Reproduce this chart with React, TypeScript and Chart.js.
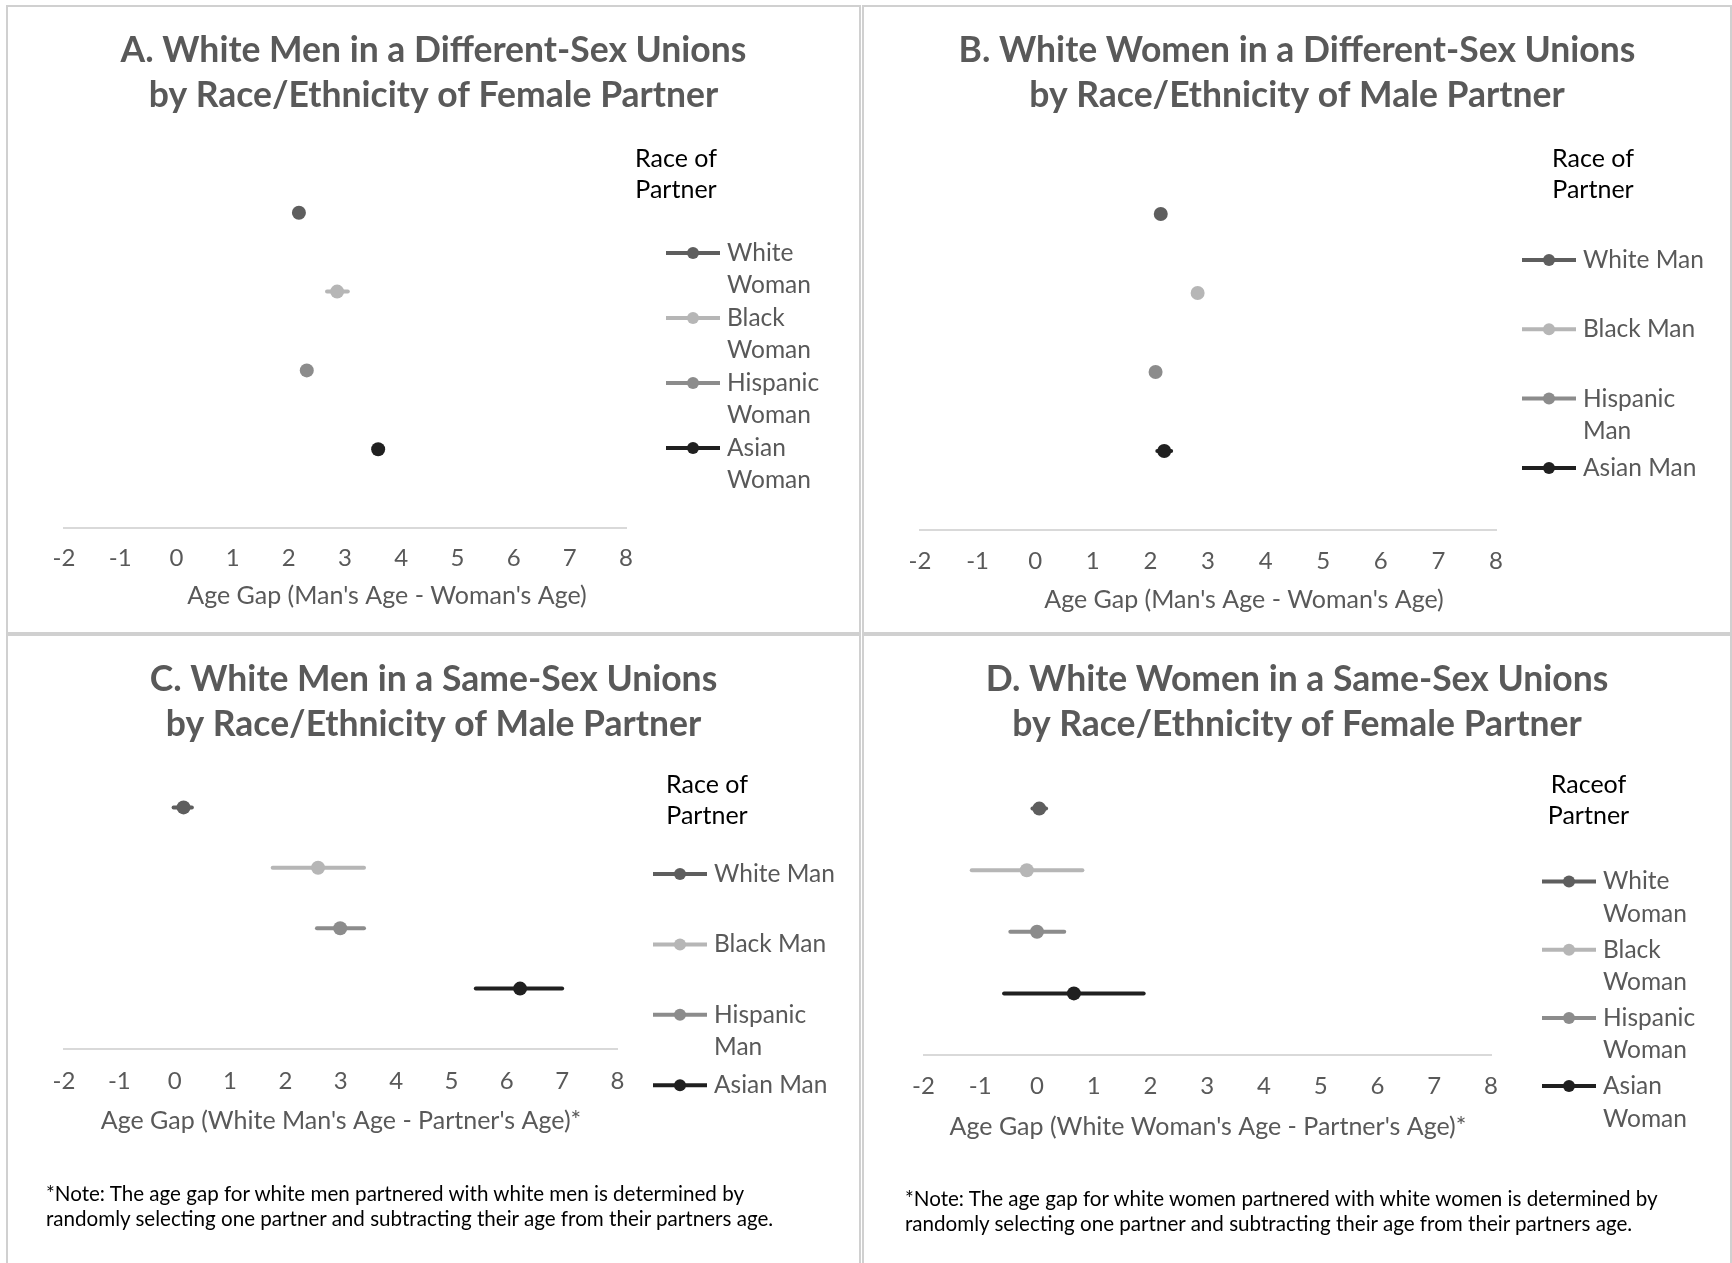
import React, { useEffect, useRef } from 'react';
import { Chart, registerables } from 'chart.js';

Chart.register(...registerables);

// ---------- data ----------
const X_MIN = -2;
const X_MAX = 8;
const xTickValues = [-2, -1, 0, 1, 2, 3, 4, 5, 6, 7, 8];
const rowPositions = [4, 3, 2, 1];
const seriesColors = ['#5e5e5e', '#b6b6b6', '#8c8c8c', '#202020'];

// Panel A
const titleA = ['A. White Men in a Different-Sex Unions', 'by Race/Ethnicity of Female Partner'];
const axisTitleA = "Age Gap (Man's Age - Woman's Age)";
const legendTitleA = ['Race of', 'Partner'];
const partnersA = ['White Woman', 'Black Woman', 'Hispanic Woman', 'Asian Woman'];
const legendLinesA = [['White', 'Woman'], ['Black', 'Woman'], ['Hispanic', 'Woman'], ['Asian', 'Woman']];
const meanA = [2.18, 2.86, 2.32, 3.59];
const lowA = [2.12, 2.68, 2.27, 3.53];
const highA = [2.24, 3.05, 2.37, 3.65];

// Panel B
const titleB = ['B. White Women in a Different-Sex Unions', 'by Race/Ethnicity of Male Partner'];
const axisTitleB = "Age Gap (Man's Age - Woman's Age)";
const legendTitleB = ['Race of', 'Partner'];
const partnersB = ['White Man', 'Black Man', 'Hispanic Man', 'Asian Man'];
const legendLinesB = [['White Man'], ['Black Man'], ['Hispanic', 'Man'], ['Asian Man']];
const meanB = [2.18, 2.82, 2.09, 2.24];
const lowB = [2.14, 2.76, 2.05, 2.12];
const highB = [2.22, 2.86, 2.13, 2.36];

// Panel C
const titleC = ['C. White Men in a Same-Sex Unions', 'by Race/Ethnicity of Male Partner'];
const axisTitleC = "Age Gap (White Man's Age - Partner's Age)*";
const legendTitleC = ['Race of', 'Partner'];
const partnersC = ['White Man', 'Black Man', 'Hispanic Man', 'Asian Man'];
const legendLinesC = [['White Man'], ['Black Man'], ['Hispanic', 'Man'], ['Asian Man']];
const meanC = [0.16, 2.59, 2.99, 6.24];
const lowC = [-0.02, 1.77, 2.57, 5.44];
const highC = [0.31, 3.42, 3.42, 7.0];
const noteC = [
  '*Note: The age gap for white men partnered with white men is determined by',
  'randomly selecting one partner and subtracting their age from their partners age.',
];

// Panel D
const titleD = ['D. White Women in a Same-Sex Unions', 'by Race/Ethnicity of Female Partner'];
const axisTitleD = "Age Gap (White Woman's Age - Partner's Age)*";
const legendTitleD = ['Raceof', 'Partner'];
const partnersD = ['White Woman', 'Black Woman', 'Hispanic Woman', 'Asian Woman'];
const legendLinesD = [['White', 'Woman'], ['Black', 'Woman'], ['Hispanic', 'Woman'], ['Asian', 'Woman']];
const meanD = [0.04, -0.18, 0.0, 0.65];
const lowD = [-0.08, -1.15, -0.47, -0.58];
const highD = [0.16, 0.8, 0.48, 1.88];
const noteD = [
  '*Note: The age gap for white women partnered with white women is determined by',
  'randomly selecting one partner and subtracting their age from their partners age.',
];

// ---------- styles ----------
const FONT = 'Lato, Carlito, Calibri, "Liberation Sans", sans-serif';
const TEXT_GRAY = '#595959';
const TITLE_SIZE = 35.5;
const TITLE_LH = 45;
const TITLE_Y1 = 44;
const TICK_SIZE = 24;
const AXIS_SIZE = 25;
const LEGEND_SIZE = 24.5;
const LEGEND_TITLE_SIZE = 25;
const LEGEND_LH = 32.5;
const LEGEND_TITLE_LH = 31;
const NOTE_SIZE = 20.6;

type Geom = {
  plotLeft: number; plotRight: number; plotTop: number; plotBottom: number;
  tickY: number; axisTitleX: number; axisTitleY: number;
  legendTitleX: number; legendTitleY: number;
  legendLineX: number; legendTextX: number; legendY0: number; legendStep: number;
};

type PanelSpec = {
  box: { left: number; top: number; width: number; height: number };
  title: string[]; axisTitle: string; legendTitle: string[];
  partners: string[]; legendLines: string[][];
  means: number[]; lows: number[]; highs: number[];
  geom: Geom;
};

const panels: PanelSpec[] = [
  {
    box: { left: 6, top: 5, width: 855, height: 629 },
    title: titleA, axisTitle: axisTitleA, legendTitle: legendTitleA,
    partners: partnersA, legendLines: legendLinesA, means: meanA, lows: lowA, highs: highA,
    geom: { plotLeft: 56, plotRight: 618, plotTop: 127, plotBottom: 521, tickY: 551, axisTitleX: 379, axisTitleY: 589,
      legendTitleX: 668, legendTitleY: 152, legendLineX: 658, legendTextX: 719, legendY0: 246, legendStep: 65 },
  },
  {
    box: { left: 862, top: 5, width: 870, height: 629 },
    title: titleB, axisTitle: axisTitleB, legendTitle: legendTitleB,
    partners: partnersB, legendLines: legendLinesB, means: meanB, lows: lowB, highs: highB,
    geom: { plotLeft: 56, plotRight: 632, plotTop: 128, plotBottom: 523, tickY: 554, axisTitleX: 380, axisTitleY: 593,
      legendTitleX: 729, legendTitleY: 152, legendLineX: 658, legendTextX: 719, legendY0: 253, legendStep: 69.3 },
  },
  {
    box: { left: 6, top: 634, width: 855, height: 632 },
    title: titleC, axisTitle: axisTitleC, legendTitle: legendTitleC,
    partners: partnersC, legendLines: legendLinesC, means: meanC, lows: lowC, highs: highC,
    geom: { plotLeft: 56, plotRight: 609.5, plotTop: 111, plotBottom: 413, tickY: 445, axisTitleX: 333, axisTitleY: 485,
      legendTitleX: 699, legendTitleY: 149, legendLineX: 645, legendTextX: 706, legendY0: 238, legendStep: 70.4 },
  },
  {
    box: { left: 862, top: 634, width: 870, height: 632 },
    title: titleD, axisTitle: axisTitleD, legendTitle: legendTitleD,
    partners: partnersD, legendLines: legendLinesD, means: meanD, lows: lowD, highs: highD,
    geom: { plotLeft: 59.5, plotRight: 627, plotTop: 111, plotBottom: 419, tickY: 450, axisTitleX: 344, axisTitleY: 491,
      legendTitleX: 724.5, legendTitleY: 149, legendLineX: 678, legendTextX: 739, legendY0: 245.5, legendStep: 68.2 },
  },
];

const notes = [
  { lines: noteC, left: 46, top: 1181 },
  { lines: noteD, left: 905, top: 1186 },
];

function Panel({ spec }: { spec: PanelSpec }) {
  const ref = useRef<HTMLCanvasElement | null>(null);
  const cw = spec.box.width - 4;
  const ch = spec.box.height - 4;

  useEffect(() => {
    const canvas = ref.current;
    if (!canvas) return;
    const g = spec.geom;
    const tickLH = TICK_SIZE * 1.2;
    const tickPad = g.tickY - g.plotBottom - tickLH / 2;
    const xScaleHeight = tickLH + 2 * tickPad;
    const titlePadTop = TITLE_Y1 - TITLE_LH / 2;
    const titlePadBottom = g.plotTop - titlePadTop - 2 * TITLE_LH;

    const datasets = spec.partners.map((label, i) => ({
      label,
      data: [
        { x: spec.lows[i], y: rowPositions[i] },
        { x: spec.means[i], y: rowPositions[i] },
        { x: spec.highs[i], y: rowPositions[i] },
      ],
      showLine: true,
      borderColor: seriesColors[i],
      backgroundColor: seriesColors[i],
      pointBackgroundColor: seriesColors[i],
      borderWidth: 4,
      borderCapStyle: 'round' as const,
      pointRadius: [0, 7, 0],
      pointHoverRadius: [0, 7, 0],
      pointBorderWidth: 0,
      clip: false as const,
    }));

    const extras = {
      id: 'panelExtras',
      afterDraw(chart: any) {
        const ctx: CanvasRenderingContext2D = chart.ctx;
        ctx.save();
        ctx.textBaseline = 'middle';
        // axis title
        ctx.font = `${AXIS_SIZE}px ${FONT}`;
        ctx.fillStyle = TEXT_GRAY;
        ctx.textAlign = 'center';
        ctx.fillText(spec.axisTitle, g.axisTitleX, g.axisTitleY);
        // legend title
        ctx.font = `${LEGEND_TITLE_SIZE}px ${FONT}`;
        ctx.fillStyle = '#000000';
        spec.legendTitle.forEach((t, k) => ctx.fillText(t, g.legendTitleX, g.legendTitleY + k * LEGEND_TITLE_LH));
        // legend items
        ctx.font = `${LEGEND_SIZE}px ${FONT}`;
        chart.data.datasets.forEach((ds: any, i: number) => {
          const y = g.legendY0 + i * g.legendStep;
          ctx.strokeStyle = ds.borderColor;
          ctx.lineWidth = 4;
          ctx.lineCap = 'butt';
          ctx.beginPath();
          ctx.moveTo(g.legendLineX, y);
          ctx.lineTo(g.legendLineX + 54, y);
          ctx.stroke();
          ctx.fillStyle = ds.borderColor;
          ctx.beginPath();
          ctx.arc(g.legendLineX + 27, y, 6, 0, Math.PI * 2);
          ctx.fill();
          ctx.fillStyle = TEXT_GRAY;
          ctx.textAlign = 'left';
          spec.legendLines[i].forEach((t, k) => ctx.fillText(t, g.legendTextX, y + k * LEGEND_LH));
        });
        ctx.restore();
      },
    };

    const hiddenSide = (width: number, position: 'left' | 'right') => ({
      type: 'linear',
      position,
      display: true,
      min: 0,
      max: 5,
      ticks: { display: false },
      grid: { display: false, drawTicks: false },
      border: { display: false },
      title: { display: false },
      afterFit: (scale: any) => {
        scale.width = width;
      },
    });

    const chart = new Chart(canvas, {
      type: 'scatter',
      data: { datasets },
      options: {
        responsive: false,
        animation: false,
        events: [],
        layout: {
          padding: {
            left: 0,
            right: 0,
            top: 0,
            bottom: ch - g.plotBottom - xScaleHeight,
          },
        },
        plugins: {
          legend: { display: false },
          tooltip: { enabled: false },
          title: {
            display: true,
            text: spec.title,
            color: TEXT_GRAY,
            font: { family: FONT, size: TITLE_SIZE, weight: 'bold', lineHeight: `${TITLE_LH}px` },
            padding: { top: titlePadTop, bottom: titlePadBottom },
          },
        },
        scales: {
          x: {
            type: 'linear',
            position: 'bottom',
            min: X_MIN,
            max: X_MAX,
            afterBuildTicks: (scale: any) => {
              scale.ticks = xTickValues.map((v) => ({ value: v }));
            },
            grid: { display: false, drawTicks: false },
            border: { display: true, color: '#d9d9d9', width: 2 },
            ticks: {
              color: TEXT_GRAY,
              font: { family: FONT, size: TICK_SIZE, lineHeight: 1.2 },
              padding: tickPad,
              autoSkip: false,
              maxRotation: 0,
            },
            title: { display: false },
          },
          y: hiddenSide(g.plotLeft, 'left'),
          yRight: { axis: 'y', ...hiddenSide(cw - g.plotRight, 'right') },
        },
      } as any,
      plugins: [extras],
    });
    return () => chart.destroy();
  }, [spec]);

  return (
    <div
      style={{
        position: 'absolute',
        left: spec.box.left,
        top: spec.box.top,
        width: spec.box.width,
        height: spec.box.height,
        border: '2px solid #d0d0d0',
        boxSizing: 'border-box',
        background: '#ffffff',
      }}
    >
      <canvas ref={ref} width={cw} height={ch} style={{ display: 'block', width: cw, height: ch }} />
    </div>
  );
}

export default function App() {
  return (
    <div
      style={{
        position: 'absolute',
        left: 0,
        top: 0,
        width: 1732,
        height: 1263,
        overflow: 'hidden',
        background: '#ffffff',
      }}
    >
      {panels.map((p, i) => (
        <Panel key={i} spec={p} />
      ))}
      {notes.map((n, i) => (
        <div
          key={'note' + i}
          style={{
            position: 'absolute',
            left: n.left,
            top: n.top,
            fontFamily: FONT,
            fontSize: NOTE_SIZE,
            lineHeight: '25px',
            color: '#000000',
            whiteSpace: 'nowrap',
          }}
        >
          {n.lines.map((l, k) => (
            <div key={k}>{l}</div>
          ))}
        </div>
      ))}
    </div>
  );
}
